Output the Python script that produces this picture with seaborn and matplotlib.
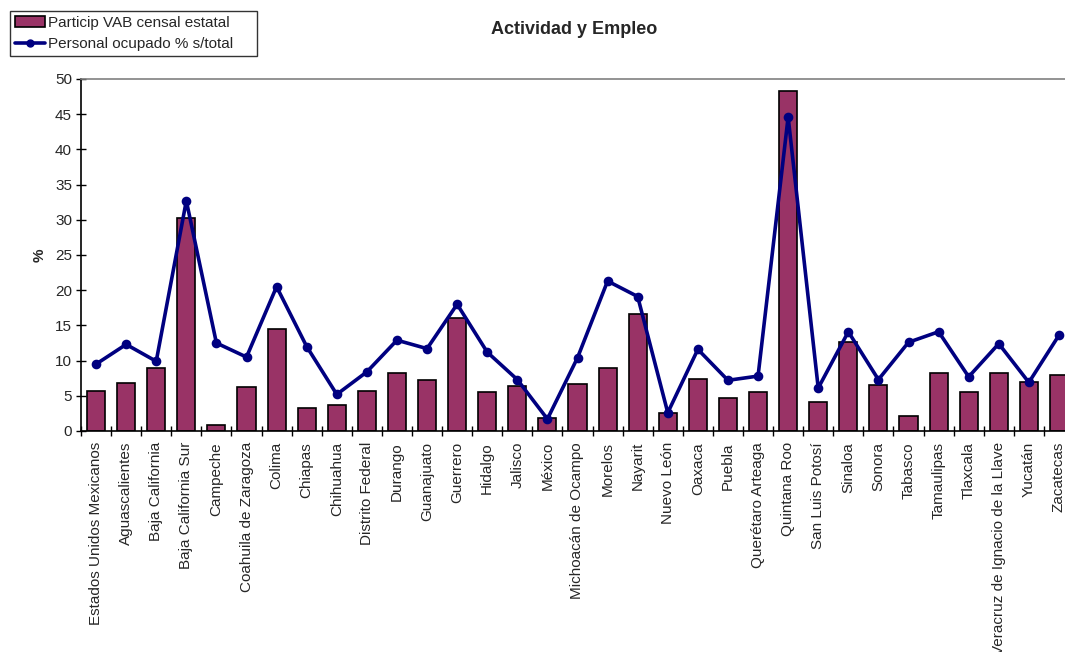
import matplotlib
matplotlib.use("Agg")
import matplotlib.pyplot as plt
import seaborn as sns
import pandas as pd
from matplotlib.patches import Patch
from matplotlib.lines import Line2D

# datos
estados = ['Estados Unidos Mexicanos', 'Aguascalientes', 'Baja California', 'Baja California Sur',
           'Campeche', 'Coahuila de Zaragoza', 'Colima', 'Chiapas', 'Chihuahua', 'Distrito Federal',
           'Durango', 'Guanajuato', 'Guerrero', 'Hidalgo', 'Jalisco', 'México', 'Michoacán de Ocampo',
           'Morelos', 'Nayarit', 'Nuevo León', 'Oaxaca', 'Puebla', 'Querétaro Arteaga', 'Quintana Roo',
           'San Luis Potosí', 'Sinaloa', 'Sonora', 'Tabasco', 'Tamaulipas', 'Tlaxcala',
           'Veracruz de Ignacio de la Llave', 'Yucatán', 'Zacatecas']
vab = [5.7, 6.8, 9.0, 30.2, 0.8, 6.3, 14.5, 3.2, 3.7, 5.7,
       8.2, 7.2, 16.1, 5.5, 6.4, 1.9, 6.7, 9.0, 16.6, 2.6,
       7.4, 4.7, 5.5, 48.3, 4.1, 12.6, 6.6, 2.2, 8.3, 5.5,
       8.3, 6.9, 7.9]
personal = [9.5, 12.3, 9.9, 32.7, 12.5, 10.5, 20.5, 12.0, 5.2, 8.4,
            12.9, 11.7, 18.0, 11.2, 7.3, 1.7, 10.4, 21.3, 19.1, 2.6,
            11.6, 7.2, 7.8, 44.6, 6.1, 14.1, 7.3, 12.6, 14.1, 7.7,
            12.4, 6.9, 13.6]

df = pd.DataFrame({'estado': estados, 'vab': vab, 'personal': personal})

bar_color = '#993366'
line_color = '#000080'

sns.set_style('white')
plt.rcParams['font.family'] = ['Liberation Sans', 'DejaVu Sans']

fig = plt.figure(figsize=(10.65, 6.52), dpi=100)
ax = fig.add_axes([81 / 1065, 221 / 652, 993 / 1065, 352 / 652])

sns.barplot(data=df, x='estado', y='vab', ax=ax, color=bar_color, width=0.6,
            edgecolor='black', linewidth=1.2, saturation=1)
sns.pointplot(data=df, x='estado', y='personal', ax=ax, color=line_color,
              markersize=5, linewidth=2.6)

ax.set_ylim(0, 50)
ax.set_yticks(range(0, 51, 5))
ax.set_xlim(-0.5, len(estados) - 0.5)
ax.set_xticks([i - 0.5 for i in range(len(estados) + 1)], minor=True)
ax.set_xticks(range(len(estados)))
ax.set_xticklabels(estados, rotation=90, fontsize=11)
ax.tick_params(axis='x', which='both', bottom=True)
ax.tick_params(axis='x', which='major', length=0, pad=8)
ax.tick_params(axis='x', which='minor', direction='inout', length=7, width=1, color='black')
ax.tick_params(axis='y', left=True, direction='inout', length=7, width=1, color='black',
               labelsize=11, pad=3)
ax.set_xlabel('')
ax.set_ylabel('%', fontsize=11, fontweight='bold', labelpad=6)

for s in ['left', 'bottom']:
    ax.spines[s].set_color('black')
    ax.spines[s].set_linewidth(1.2)
ax.spines['right'].set_visible(False)
ax.spines['top'].set_color('#808080')
ax.spines['top'].set_linewidth(1.2)

fig.text(574 / 1065, 1 - 29 / 652, 'Actividad y Empleo', ha='center', va='center',
         fontsize=13, fontweight='bold')

handles = [Patch(facecolor=bar_color, edgecolor='black', linewidth=1.2),
           Line2D([0], [0], color=line_color, linewidth=2.6, marker='o', markersize=5)]
leg = fig.legend(handles, ['Particip VAB censal estatal', 'Personal ocupado % s/total'],
                 loc='upper left', bbox_to_anchor=(10 / 1065, 1 - 57 / 652, 247 / 1065, 46 / 652),
                 mode='expand', fontsize=11, frameon=True, fancybox=False, borderpad=0.3,
                 labelspacing=0.5, handlelength=2.0, handletextpad=0.2, borderaxespad=0)
leg.get_frame().set_edgecolor('black')
leg.get_frame().set_linewidth(1)

fig.savefig('out.png', dpi=100)
